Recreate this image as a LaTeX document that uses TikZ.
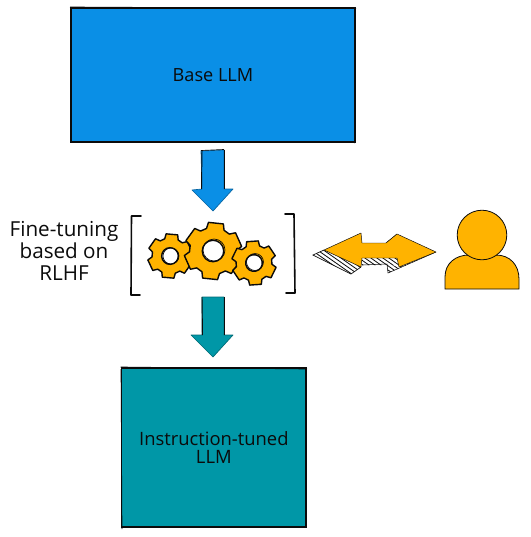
\documentclass[tikz,border=0pt]{standalone}
\usepackage{fontspec}
\setmainfont{Open Sans}
\definecolor{bluefill}{HTML}{0A8FE6}
\definecolor{tealfill}{HTML}{0097A7}
\definecolor{gold}{HTML}{FFB300}
\definecolor{ink}{HTML}{0B0B0B}
\tikzset{
  x=0.75pt,y=-0.75pt,
  sketch/.style={draw=ink,line width=1.05pt,line join=round,line cap=round},
  boxshape/.style={draw=ink,line width=1.3pt,anchor=north west,inner sep=0pt,outer sep=0pt,align=center,text=ink},
  arrowshape/.style={draw=#1!70!black,line width=.5pt,fill=#1,line join=round},
  hatchline/.style={draw=ink,line width=.6pt},
  label text/.style={align=center,text=ink,inner sep=0pt},
  bracket/.style={draw=ink,line width=1.2pt,line cap=round,line join=round}
}
\newcommand{\gearpath}[5]{% cx cy outer inner rotation
  [shift={(#1,#2)},rotate=#5] (-15:#3)
  \foreach \a in {0,60,...,300}{
     -- (\a-15:#3) -- (\a+15:#3) -- (\a+22:#4) -- (\a+38:#4)
     } -- cycle (0:#3*.37) arc[start angle=0,end angle=360,radius=#3*.37]
}
\begin{document}
\begin{tikzpicture}
\useasboundingbox (0,0) rectangle (531,537);
% Boxes
\node[boxshape,fill=bluefill,minimum width=213pt,minimum height=100.5pt,font=\fontsize{13.6}{15}\selectfont] (base) at (71,8)
  {Base LLM};
\draw[ink,line width=.5pt] (70,7) -- (356,8.5) (355.5,7) -- (354.5,143);
\node[boxshape,fill=tealfill,minimum width=138.5pt,minimum height=119.5pt,font=\fontsize{13.8}{13.6}\selectfont] (tuned) at (121.5,368)
  {Instruction-tuned\\LLM};
\draw[ink,line width=.5pt] (120.5,367) -- (307,369) (121,369) -- (122,529);
% Block arrows
\path[arrowshape=bluefill] (201,151) -- (224,150) -- (224,189) -- (233,189) -- (213,211) -- (192,190) -- (202,189) -- cycle;
\draw[ink,line width=.7pt] (202,150) -- (201.5,189);
\draw[ink,line width=.7pt] (224,150) -- (224,189);
\draw[ink,line width=.5pt] (201,150.5) -- (224,149.5);
\path[arrowshape=tealfill] (202,297) -- (224,297) -- (224,335) -- (233,335) -- (213,357) -- (191,335) -- (202,335) -- cycle;
\draw[ink,line width=.7pt] (202,297) -- (202.5,335);
\draw[ink,line width=.7pt] (224,297) -- (224,335);
% Gears
\foreach \gx/\gy/\go/\gi/\gr in {170/256/22.5/18/25,213/251/29/23.5/24,254/263/22.5/18/34}{
  \draw[sketch,fill=gold,even odd rule] \gearpath{\gx}{\gy}{\go}{\gi}{\gr};
}
\draw[ink,line width=.5pt] (171,256) circle[radius=8] (214,250) circle[radius=11] (255,262) circle[radius=8.5];
% Brackets
\draw[bracket] (141,216) -- (131.5,216) -- (131,295) -- (140,295);
\draw[bracket] (285,214) -- (294,214) -- (295,293) -- (286,293);
% Side label
\node[label text,font=\fontsize{15.5}{16.6}\selectfont] (side) at (64,251) {Fine-tuning\\based on\\RLHF};
% Double arrow: hatched shadow
\begin{scope}
\clip (313,255) -- (324,250) -- (361,267) -- (351,274) -- cycle
      (362,258) -- (397,258) -- (399,265) -- (362,265) -- cycle
      (386,243) -- (397,234) -- (397,243) -- cycle
      (387,264) -- (399,267) -- (436,252) -- (388,273) -- cycle;
\fill[white] (300,220) rectangle (440,280);
\foreach \k in {-130,-124,...,160}{ \draw[hatchline] (300+\k,235) -- (300+\k+60,277); }
\end{scope}
\draw[ink,line width=.5pt] (324,250) -- (313,255) -- (351,274) -- (361,267);
\draw[ink,line width=.4pt] (362,265) -- (387,264) -- (388,273) -- (436,252);
\draw[ink,line width=.4pt] (386,243) -- (397,234);
\path[fill=gold,draw=ink,line width=.35pt,line join=round] (324,250) -- (361,233) -- (362,243) -- (386,243) -- (397,234) -- (436,252) -- (399,267) -- (397,258) -- (362,258) -- (361,267) -- cycle;
% Person
\path[fill=gold,draw=ink,line width=.6pt] (445,289) -- (445,277) .. controls (445,263) and (456,255) .. (469,255) -- (496,255) .. controls (510,255) and (519,265) .. (519,279) -- (519,289) -- cycle;
\path[fill=gold,draw=ink,line width=.6pt] (482,235) circle[radius=24.8];
\end{tikzpicture}
\end{document}
